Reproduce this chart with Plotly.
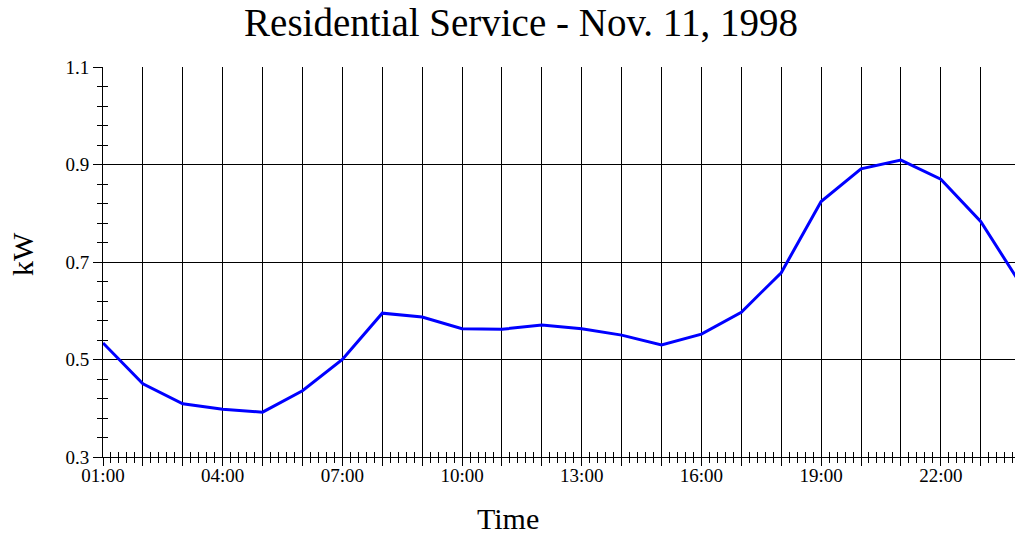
import plotly.graph_objects as go

hours = list(range(1, 25))
kw = [0.534, 0.450, 0.409, 0.398, 0.392, 0.436, 0.500, 0.595, 0.587, 0.563,
      0.562, 0.571, 0.563, 0.550, 0.530, 0.552, 0.597, 0.678, 0.824, 0.891,
      0.909, 0.870, 0.783, 0.655]
tick_hours = list(range(1, 24))
tick_text = [f"{h:02d}:00" if (h - 1) % 3 == 0 else "" for h in tick_hours]
y_ticks = [0.3, 0.5, 0.7, 0.9, 1.1]
y_text = ["0.3", "0.5", "0.7", "0.9", "1.1"]

FONT = "Liberation Serif"
X_RANGE = [1, 23.86]
Y_RANGE = [0.3, 1.1]

W, H = 1015, 539

fig = go.Figure()
fig.add_trace(go.Scatter(x=hours, y=kw, mode="lines",
                         line=dict(color="#0000FF", width=3),
                         showlegend=False, hoverinfo="skip"))
# invisible trace so the overlay axes (inside ticks) render
fig.add_trace(go.Scatter(x=hours, y=kw, mode="lines", xaxis="x2", yaxis="y2",
                         line=dict(color="rgba(0,0,0,0)", width=0),
                         showlegend=False, hoverinfo="skip"))

fig.update_layout(
    width=W, height=H,
    margin=dict(l=103, r=0, t=67, b=H - 457, pad=0),
    paper_bgcolor="white", plot_bgcolor="white",
    font=dict(family=FONT, color="black", size=19),
    title=dict(text="Residential Service - Nov. 11, 1998",
               font=dict(family=FONT, size=39, color="black"),
               x=521 / W, xanchor="center", xref="container",
               y=1 - 22 / H, yanchor="middle", yref="container"),
    xaxis=dict(range=X_RANGE, tickmode="array", tickvals=tick_hours, ticktext=tick_text,
               ticks="outside", ticklen=8, tickcolor="black", tickwidth=1,
               ticklabelstandoff=-7,
               showgrid=True, gridcolor="black", gridwidth=1,
               showline=True, linecolor="black", linewidth=1, zeroline=False,
               tickfont=dict(family=FONT, size=19, color="black"),
               minor=dict(dtick=0.2, tick0=1, ticks="outside", ticklen=5,
                          tickcolor="black", tickwidth=1, showgrid=False)),
    xaxis2=dict(range=X_RANGE, overlaying="x", anchor="y", side="bottom",
                tickmode="array", tickvals=tick_hours, ticks="inside", ticklen=10,
                tickcolor="black", tickwidth=1, showticklabels=False,
                showgrid=False, showline=False, zeroline=False,
                minor=dict(dtick=0.2, tick0=1, ticks="inside", ticklen=5,
                           tickcolor="black", tickwidth=1, showgrid=False)),
    yaxis=dict(range=Y_RANGE, tickmode="array", tickvals=y_ticks, ticktext=y_text,
               ticks="outside", ticklen=9, tickcolor="black", tickwidth=1,
               showgrid=True, gridcolor="black", gridwidth=1,
               showline=True, linecolor="black", linewidth=1, zeroline=False,
               tickfont=dict(family=FONT, size=19, color="black"),
               minor=dict(dtick=0.04, tick0=0.3, ticks="outside", ticklen=5,
                          tickcolor="black", tickwidth=1, showgrid=False)),
    yaxis2=dict(range=Y_RANGE, overlaying="y", anchor="x", side="left",
                tickmode="array", tickvals=y_ticks, ticks="inside", ticklen=9,
                tickcolor="black", tickwidth=1, showticklabels=False,
                showgrid=False, showline=False, zeroline=False,
                minor=dict(dtick=0.04, tick0=0.3, ticks="inside", ticklen=5,
                           tickcolor="black", tickwidth=1, showgrid=False)),
    annotations=[
        dict(text="Time", xref="paper", yref="paper",
             x=(508 - 103) / 912, y=-(518 - 457) / 390,
             xanchor="center", yanchor="middle", showarrow=False,
             font=dict(family=FONT, size=30, color="black")),
        dict(text="kW", xref="paper", yref="paper",
             x=-(103 - 23) / 912, y=(457 - 254) / 390,
             xanchor="center", yanchor="middle", showarrow=False, textangle=-90,
             font=dict(family=FONT, size=30, color="black")),
    ],
)

fig.write_html("out.html", config=dict(displayModeBar=False),
               post_script="document.body.style.margin='0px';")
